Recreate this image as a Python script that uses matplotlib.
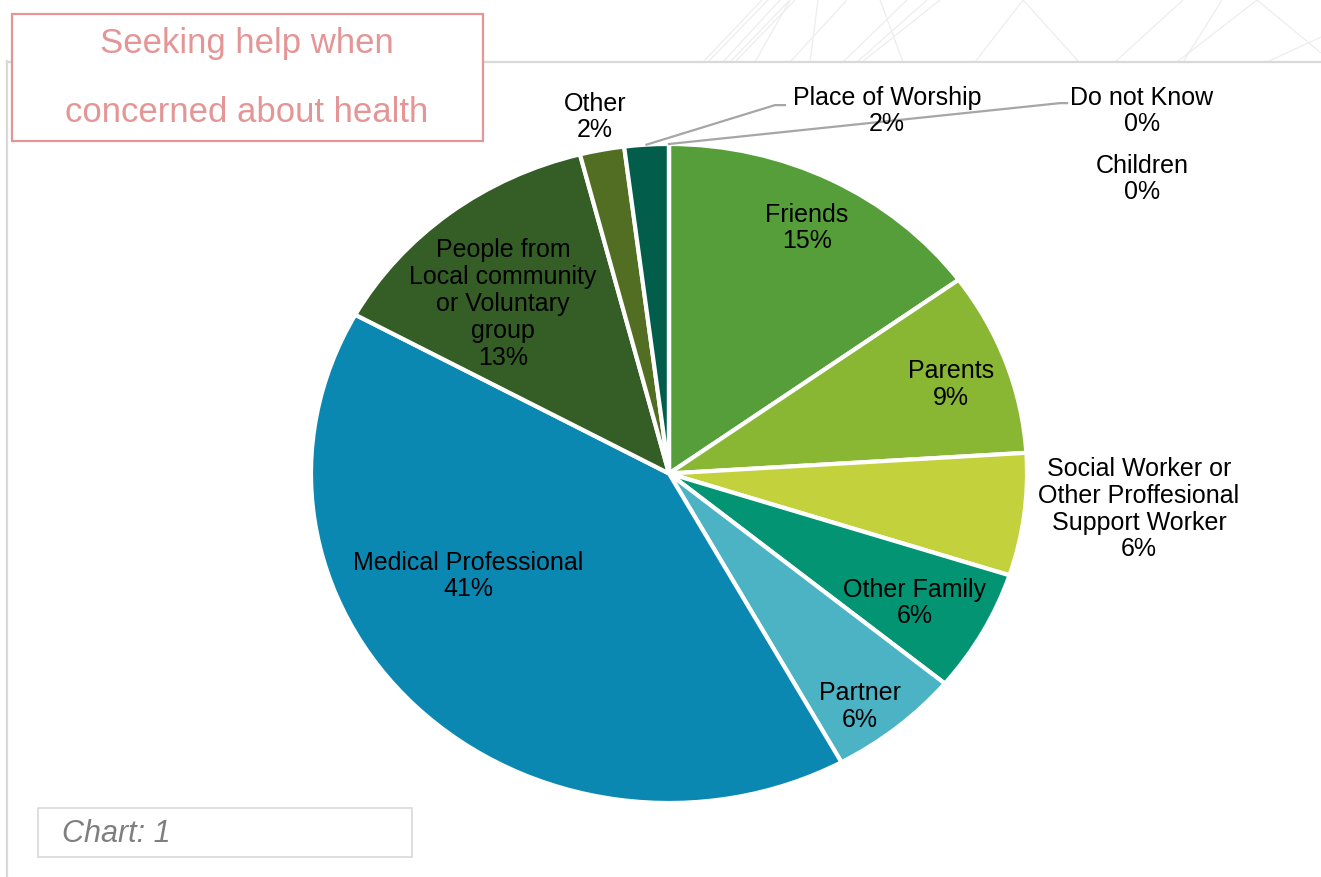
import matplotlib
matplotlib.use('Agg')
import matplotlib.pyplot as plt
from matplotlib.patches import Rectangle
import numpy as np

plt.rcParams['font.family'] = ['Liberation Sans', 'DejaVu Sans']

# Share of respondents by who they would ask for help (%)
categories = [
    "Friends", "Parents", "Social Worker or\nOther Proffesional\nSupport Worker",
    "Other Family", "Partner", "Medical Professional",
    "People from\nLocal community\nor Voluntary\ngroup",
    "Other", "Place of Worship", "Do not Know", "Children",
]
shares = [15, 9, 6, 6, 6, 41, 13, 2, 2, 0, 0]
colors = ["#559E3A", "#8AB733", "#C2D13C", "#039474", "#4BB3C4", "#0A88B2",
          "#345E26", "#526E22", "#025E4A", "#1F6F5A", "#7FA040"]

# label anchors in pie units (radius = 1)
label_xy = [(0.385, 0.745), (0.788, 0.269), (1.313, -0.108), (0.687, -0.393),
            (0.534, -0.706), (-0.561, -0.311), (-0.464, 0.514), (-0.207, 1.082),
            (0.609, 1.100), (1.321, 1.100), (1.321, 0.894)]

# leader lines: (label index, elbow point, end point)
leaders = [(8, (0.296, 1.118), (0.324, 1.118)),
           (9, (1.092, 1.124), (1.112, 1.124))]

W, H = 1321, 877
CX, CY, RX, RY = 669, 473.5, 358, 329.5

fig = plt.figure(figsize=(W / 100, H / 100), dpi=100)

# background layer in pixel coordinates
bg = fig.add_axes([0, 0, 1, 1], zorder=0)
bg.set_xlim(0, W)
bg.set_ylim(H, 0)
bg.axis('off')

deco = [((703, 62), (762, 0)), ((708, 62), (768, 0)), ((723, 62), (780, 0)),
        ((730, 62), (790, 0)), ((735, 62), (795, 0)), ((755, 62), (790, 0)),
        ((810, 62), (818, 0)), ((790, 62), (847, 0)), ((843, 62), (907, 0)),
        ((857, 62), (927, 0)), ((862, 62), (940, 0)), ((903, 62), (880, 0)),
        ((975, 62), (1023, 0)), ((1023, 0), (1079, 62)), ((1115, 62), (1183, 0)),
        ((1183, 62), (1222, 0)), ((1177, 62), (1257, 0)), ((1257, 0), (1321, 53)),
        ((1267, 62), (1321, 37))]
for (x0, y0), (x1, y1) in deco:
    bg.plot([x0, x1], [y0, y1], color="#EDEDED", lw=0.9, solid_capstyle='butt')

# chart frame
bg.plot([7, W], [62, 62], color="#D9D9D9", lw=1.6)
bg.plot([7, 7], [61, H], color="#D9D9D9", lw=1.6)

# title box
bg.add_patch(Rectangle((12, 14), 471, 127, facecolor="white", edgecolor="#E49696",
                       lw=1.6, zorder=5))
bg.text(247, 43, "Seeking help when", color="#E49696", fontsize=25,
        ha='center', va='center', zorder=6)
bg.text(247, 112, "concerned about health", color="#E49696", fontsize=25,
        ha='center', va='center', zorder=6)

# chart caption box
bg.add_patch(Rectangle((38, 808), 374, 49, facecolor="white", edgecolor="#D9D9D9",
                       lw=1.2, zorder=5))
bg.text(62, 834, "Chart: 1", color="#7F7F7F", fontsize=22, style='italic',
        ha='left', va='center', zorder=6)

# pie layer
ax = fig.add_axes([0, 0, 1, 1], zorder=1)
ax.patch.set_visible(False)
ax.pie(shares, colors=colors, startangle=90, counterclock=False,
       wedgeprops=dict(edgecolor="white", linewidth=3.0))
ax.set_aspect('auto')
ax.set_xlim(-CX / RX, (W - CX) / RX)
ax.set_ylim(-(H - CY) / RY, CY / RY)
ax.axis('off')

for name, val, (x, y) in zip(categories, shares, label_xy):
    ax.text(x, y, f"{name}\n{val}%", ha='center', va='center', fontsize=18,
            linespacing=1.15, color="black")

# leader lines from the thin top slices out to their labels
total = sum(shares)
mids = []
angle = 90.0
for v in shares:
    mids.append(angle - 360 * v / total / 2)
    angle -= 360 * v / total

for idx, elbow, end in leaders:
    a = np.deg2rad(mids[idx])
    x0, y0 = np.cos(a), np.sin(a)
    ax.plot([x0, elbow[0], end[0]], [y0, elbow[1], end[1]], color="#A6A6A6", lw=1.6)

fig.savefig("out.png", dpi=100)
